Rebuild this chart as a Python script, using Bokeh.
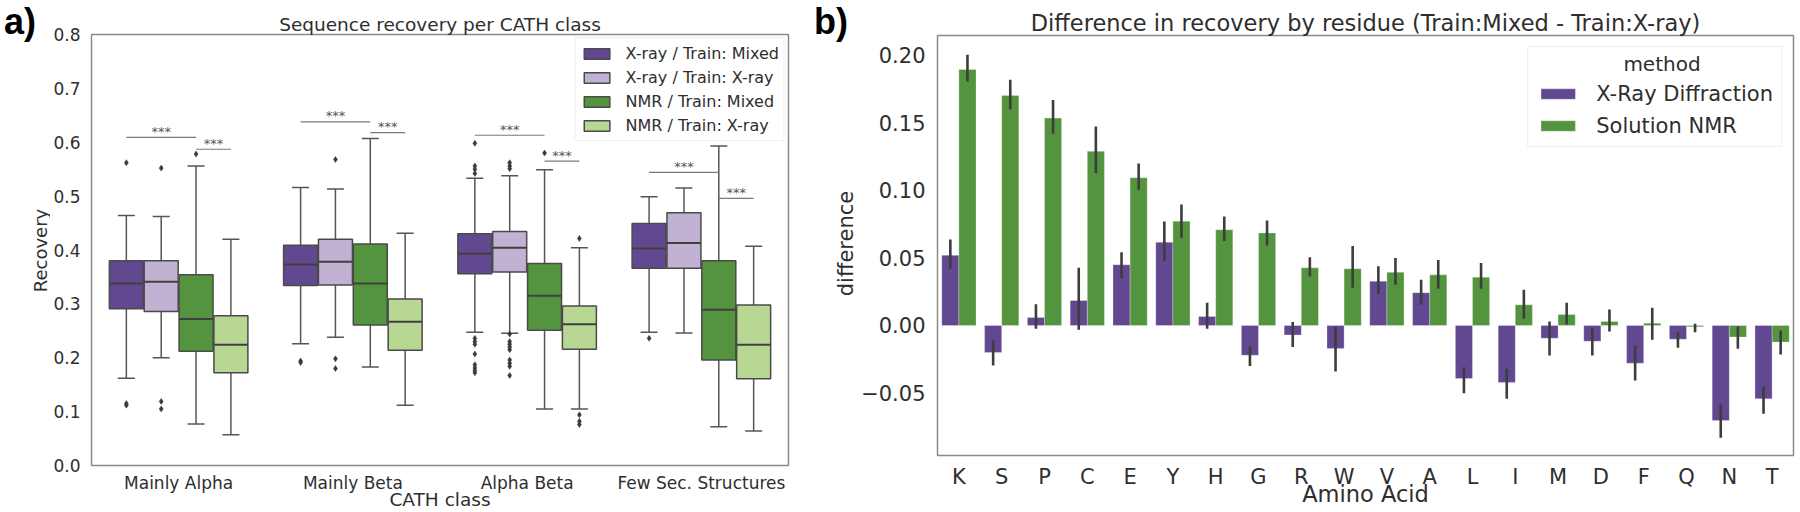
import math
from bokeh.plotting import figure
from bokeh.models import ColumnDataSource, FactorRange, Range1d, FixedTicker, Label
from bokeh.transform import dodge
from bokeh.layouts import row, column
from bokeh.embed import file_html
from bokeh.resources import INLINE
from bokeh.core.properties import value

# ---------------- data: panel a ----------------
classes = ["Mainly Alpha", "Mainly Beta", "Alpha Beta", "Few Sec. Structures"]
groups = ["X-ray / Train: Mixed", "X-ray / Train: X-ray", "NMR / Train: Mixed", "NMR / Train: X-ray"]

# rows = groups, columns = classes
box_lo = [
    [0.162, 0.226, 0.2475, 0.2475],
    [0.200, 0.238, 0.2457, 0.246],
    [0.077, 0.183, 0.105, 0.072],
    [0.057, 0.112, 0.105, 0.064],
]
box_q1 = [
    [0.291, 0.334, 0.356, 0.366],
    [0.286, 0.335, 0.359, 0.366],
    [0.212, 0.261, 0.251, 0.196],
    [0.172, 0.214, 0.216, 0.161],
]
box_med = [
    [0.338, 0.373, 0.393, 0.403],
    [0.341, 0.378, 0.404, 0.413],
    [0.272, 0.338, 0.315, 0.289],
    [0.224, 0.267, 0.262, 0.224],
]
box_q3 = [
    [0.380, 0.409, 0.430, 0.449],
    [0.380, 0.420, 0.4345, 0.469],
    [0.354, 0.411, 0.375, 0.380],
    [0.278, 0.309, 0.296, 0.298],
]
box_hi = [
    [0.464, 0.516, 0.533, 0.499],
    [0.462, 0.513, 0.538, 0.515],
    [0.556, 0.607, 0.549, 0.593],
    [0.420, 0.431, 0.404, 0.407],
]

outlier_class = (["Mainly Alpha"] * 3 + ["Mainly Alpha"] * 3 + ["Mainly Alpha"]
                 + ["Mainly Beta"] * 2 + ["Mainly Beta"] * 3
                 + ["Alpha Beta"] * 12 + ["Alpha Beta"] * 12 + ["Alpha Beta"] + ["Alpha Beta"] * 4
                 + ["Few Sec. Structures"])
outlier_group = ([0] * 3 + [1] * 3 + [2]
                 + [0] * 2 + [1] * 3
                 + [0] * 12 + [1] * 12 + [2] + [3] * 4
                 + [0])
outlier_value = ([0.562, 0.115, 0.112] + [0.552, 0.119, 0.105] + [0.578]
                 + [0.194, 0.191] + [0.568, 0.198, 0.180]
                 + [0.598, 0.556, 0.550, 0.542, 0.236, 0.230, 0.225, 0.207, 0.187, 0.181, 0.176, 0.172]
                 + [0.562, 0.556, 0.551, 0.244, 0.230, 0.225, 0.220, 0.215, 0.196, 0.190, 0.184, 0.167]
                 + [0.580]
                 + [0.4215, 0.094, 0.082, 0.076]
                 + [0.236])

# significance bars: (X-ray/Mixed vs NMR/Mixed) and (NMR/Mixed vs NMR/X-ray)
sig_y_a = [0.609, 0.638, 0.613, 0.544]
sig_y_b = [0.587, 0.618, 0.565, 0.496]
sig_text = ["***", "***", "***", "***"]

left_ticks = [0.0, 0.1, 0.2, 0.3, 0.4, 0.5, 0.6, 0.7, 0.8]
left_tick_labels = ["0.0", "0.1", "0.2", "0.3", "0.4", "0.5", "0.6", "0.7", "0.8"]

# ---------------- data: panel b ----------------
amino = ["K", "S", "P", "C", "E", "Y", "H", "G", "R", "W",
         "V", "A", "L", "I", "M", "D", "F", "Q", "N", "T"]
xray_diff = [0.052, -0.020, 0.006, 0.0185, 0.045, 0.0617, 0.0067, -0.022, -0.007, -0.017,
             0.0328, 0.0243, -0.0393, -0.0422, -0.0094, -0.0116, -0.0279, -0.0101, -0.0704, -0.0543]
xray_lo = [0.042, -0.0296, -0.0025, -0.0032, 0.035, 0.048, -0.0025, -0.030, -0.016, -0.034,
           0.0233, 0.0153, -0.0501, -0.0543, -0.0222, -0.0222, -0.0407, -0.0165, -0.0832, -0.0654]
xray_hi = [0.0637, -0.0111, 0.0157, 0.0427, 0.0543, 0.077, 0.0168, -0.0156, 0.0025, -0.0012,
           0.0438, 0.0338, -0.0309, -0.0321, 0.003, -0.0017, -0.0148, -0.0044, -0.0585, -0.0452]
nmr_diff = [0.1896, 0.1704, 0.1536, 0.129, 0.1094, 0.0773, 0.0709, 0.0686, 0.0427, 0.042,
            0.0394, 0.0375, 0.0358, 0.0153, 0.0081, 0.003, 0.0017, -0.001, -0.0086, -0.0123]
nmr_lo = [0.1807, 0.160, 0.142, 0.113, 0.1005, 0.065, 0.0625, 0.0593, 0.0363, 0.0279,
          0.0301, 0.0272, 0.0272, 0.005, 0.0007, -0.0044, -0.0106, -0.005, -0.0173, -0.0215]
nmr_hi = [0.2005, 0.182, 0.167, 0.1474, 0.120, 0.0896, 0.0807, 0.0778, 0.0506, 0.0588,
          0.050, 0.0486, 0.0462, 0.0264, 0.0168, 0.0119, 0.0131, 0.0012, -0.0007, -0.0037]
methods = ["X-Ray Diffraction", "Solution NMR"]

right_ticks = [-0.05, 0.0, 0.05, 0.1, 0.15, 0.2]
right_tick_labels = ["\u22120.05", "0.00", "0.05", "0.10", "0.15", "0.20"]

# ---------------- style ----------------
FONT = "DejaVu Sans"
TXT = "#2e2e2e"
group_colors = ["#614890", "#c1b1d3", "#55943e", "#b8d793"]
group_offsets = [-0.3, -0.1, 0.1, 0.3]
BOXW = 0.195
LINE = "#555555"
H = 512


def style_axes(p, tick_size, x_standoff, y_standoff):
    for ax in (p.xaxis, p.yaxis):
        ax.axis_line_color = None
        ax.major_tick_line_color = None
        ax.minor_tick_line_color = None
        ax.major_label_text_font = FONT
        ax.major_label_text_font_size = tick_size
        ax.major_label_text_color = TXT
        ax.axis_label_text_font = FONT
        ax.axis_label_text_font_style = "normal"
        ax.axis_label_text_color = TXT
    p.xaxis.major_label_standoff = x_standoff
    p.yaxis.major_label_standoff = y_standoff
    p.xgrid.grid_line_color = None
    p.ygrid.grid_line_color = None
    p.outline_line_color = "#8a8a8a"
    p.outline_line_width = 1.5
    p.background_fill_color = "white"
    p.border_fill_color = "white"


def style_title(p, text, size, standoff):
    p.title.text = text
    p.title.align = "center"
    p.title.text_font = FONT
    p.title.text_font_size = size
    p.title.text_font_style = "normal"
    p.title.text_color = TXT
    p.title.standoff = standoff


def text_strip(w, h):
    f = figure(width=w, height=h, x_range=Range1d(0, w), y_range=Range1d(0, h),
               output_backend="svg", toolbar_location=None, min_border=0,
               x_axis_location=None, y_axis_location=None)
    f.outline_line_color = None
    f.background_fill_color = "white"
    f.border_fill_color = "white"
    f.xgrid.visible = False
    f.ygrid.visible = False
    return f


def add_text(f, text, x, y, size, align="center", angle=0.0,
             font=FONT, style="normal", color=TXT):
    # y is the vertical centre of the text box
    f.add_layout(Label(x=x, y=y, text=text, text_font=font, text_font_size=size,
                       text_font_style=style, text_align=align, text_baseline="middle",
                       angle=angle, text_color=color, level="overlay"))


# ================= panel a =================   (page x 50..790)
p1 = figure(width=740, height=H, x_range=FactorRange(factors=classes, range_padding=0),
            y_range=Range1d(0, 0.8), output_backend="svg", toolbar_location=None,
            min_border_left=33, min_border_right=2, min_border_top=34, min_border_bottom=46)
style_axes(p1, "17px", 1, 5)
style_title(p1, "Sequence recovery per CATH class", "18.5px", 0)
p1.xaxis.axis_label = "CATH class"
p1.xaxis.axis_label_text_font_size = "18.5px"
p1.xaxis.axis_label_standoff = -7
p1.yaxis.ticker = FixedTicker(ticks=left_ticks)
p1.yaxis.major_label_overrides = dict(zip(left_ticks, left_tick_labels))

for gi, g in enumerate(groups):
    off = group_offsets[gi]
    src = ColumnDataSource(dict(cls=classes, lo=box_lo[gi], q1=box_q1[gi], med=box_med[gi],
                                q3=box_q3[gi], hi=box_hi[gi]))
    xc = dodge("cls", off, range=p1.x_range)
    p1.segment(x0=xc, y0="q3", x1=xc, y1="hi", source=src, line_color=LINE, line_width=1.5)
    p1.segment(x0=xc, y0="q1", x1=xc, y1="lo", source=src, line_color=LINE, line_width=1.5)
    p1.segment(x0=dodge("cls", off - BOXW / 4, range=p1.x_range), y0="hi",
               x1=dodge("cls", off + BOXW / 4, range=p1.x_range), y1="hi",
               source=src, line_color=LINE, line_width=1.5)
    p1.segment(x0=dodge("cls", off - BOXW / 4, range=p1.x_range), y0="lo",
               x1=dodge("cls", off + BOXW / 4, range=p1.x_range), y1="lo",
               source=src, line_color=LINE, line_width=1.5)
    p1.vbar(x=xc, width=BOXW, bottom="q1", top="q3", source=src,
            fill_color=group_colors[gi], line_color="#4a4a4a", line_width=1.5,
            legend_label=g)
    p1.segment(x0=dodge("cls", off - BOXW / 2, range=p1.x_range), y0="med",
               x1=dodge("cls", off + BOXW / 2, range=p1.x_range), y1="med",
               source=src, line_color="#404040", line_width=2)
    oc = [c for c, gg in zip(outlier_class, outlier_group) if gg == gi]
    ov = [v for v, gg in zip(outlier_value, outlier_group) if gg == gi]
    if oc:
        osrc = ColumnDataSource(dict(cls=oc, v=ov))
        p1.scatter(x=xc, y="v", source=osrc, marker="diamond", size=6,
                   fill_color="#3a3a3a", line_color="#3a3a3a", line_width=0.5)

sig_src = ColumnDataSource(dict(cls=classes, ya=sig_y_a, yb=sig_y_b, t=sig_text))
p1.segment(x0=dodge("cls", group_offsets[0], range=p1.x_range), y0="ya",
           x1=dodge("cls", group_offsets[2], range=p1.x_range), y1="ya",
           source=sig_src, line_color="#7a7a7a", line_width=1.2)
p1.segment(x0=dodge("cls", group_offsets[2], range=p1.x_range), y0="yb",
           x1=dodge("cls", group_offsets[3], range=p1.x_range), y1="yb",
           source=sig_src, line_color="#7a7a7a", line_width=1.2)
p1.text(x=dodge("cls", (group_offsets[0] + group_offsets[2]) / 2, range=p1.x_range), y="ya",
        text="t", source=sig_src, text_font=value(FONT), text_font_size=value("13px"),
        text_align="center", text_baseline="alphabetic", y_offset=-6, text_color="#555555")
p1.text(x=dodge("cls", (group_offsets[2] + group_offsets[3]) / 2, range=p1.x_range), y="yb",
        text="t", source=sig_src, text_font=value(FONT), text_font_size=value("13px"),
        text_align="center", text_baseline="alphabetic", y_offset=-6, text_color="#555555")

leg1 = p1.legend[0]
leg1.location = "top_right"
leg1.margin = 3
leg1.padding = 5
leg1.spacing = 4
leg1.glyph_width = 32
leg1.glyph_height = 13
leg1.label_height = 20
leg1.label_standoff = 13
leg1.label_text_font = FONT
leg1.label_text_font_size = "16px"
leg1.label_text_color = TXT
leg1.border_line_color = "#dddddd"
leg1.border_line_width = 1
leg1.background_fill_alpha = 0.85

# ================= panel b =================   (page x 858..1800)
p2 = figure(width=942, height=H, x_range=FactorRange(factors=amino, range_padding=0),
            y_range=Range1d(-0.0963, 0.2148), output_backend="svg", toolbar_location=None,
            min_border_left=71, min_border_right=7, min_border_top=35, min_border_bottom=57)
style_axes(p2, "21px", 3, 6)
style_title(p2, "Difference in recovery by residue (Train:Mixed - Train:X-ray)", "22.5px", 0)
p2.xaxis.axis_label = "Amino Acid"
p2.xaxis.axis_label_text_font_size = "22.5px"
p2.xaxis.axis_label_standoff = -11
p2.yaxis.ticker = FixedTicker(ticks=right_ticks)
p2.yaxis.major_label_overrides = dict(zip(right_ticks, right_tick_labels))

bsrc = ColumnDataSource(dict(aa=amino, xray=xray_diff, xlo=xray_lo, xhi=xray_hi,
                             nmr=nmr_diff, nlo=nmr_lo, nhi=nmr_hi))
xp = dodge("aa", -0.2, range=p2.x_range)
xg = dodge("aa", 0.2, range=p2.x_range)
p2.vbar(x=xp, width=0.4, bottom=0, top="xray", source=bsrc, fill_color=group_colors[0],
        line_color="#ffffff", line_width=0.8, line_alpha=0.35, legend_label=methods[0])
p2.vbar(x=xg, width=0.4, bottom=0, top="nmr", source=bsrc, fill_color=group_colors[2],
        line_color="#ffffff", line_width=0.8, line_alpha=0.35, legend_label=methods[1])
p2.segment(x0=xp, y0="xlo", x1=xp, y1="xhi", source=bsrc, line_color="#3d3d3d", line_width=2.6)
p2.segment(x0=xg, y0="nlo", x1=xg, y1="nhi", source=bsrc, line_color="#3d3d3d", line_width=2.6)

leg2 = p2.legend[0]
leg2.location = "top_right"
leg2.margin = 11
leg2.padding = 8
leg2.spacing = 7
leg2.glyph_width = 43
leg2.glyph_height = 13
leg2.label_height = 25
leg2.label_standoff = 17
leg2.label_text_font = FONT
leg2.label_text_font_size = "21px"
leg2.label_text_color = TXT
leg2.title = " "
leg2.title_text_font_size = "20px"
leg2.title_standoff = 3
leg2.border_line_color = "#dddddd"
leg2.border_line_width = 1
leg2.background_fill_alpha = 0.0
p2.add_layout(Label(x=724.5, y=392, x_units="screen", y_units="screen", text="method",
                    text_font=FONT, text_font_size="20px", text_align="center",
                    text_baseline="middle", text_color=TXT, level="overlay"))

# ================= text strips beside the plot frames =================
strip_a = text_strip(50, H)          # page x 0..50
add_text(strip_a, "a)", 3.6, H - 20.5, "36px", align="left", font="Liberation Sans",
         style="bold", color="#000000")
add_text(strip_a, "Recovery", 39.5, H - 250, "18px", angle=math.pi / 2)

strip_b = text_strip(68, H)          # page x 790..858
add_text(strip_b, "b)", 23.6, H - 20.5, "36px", align="left", font="Liberation Sans",
         style="bold", color="#000000")
add_text(strip_b, "difference", 55.7, H - 243, "21px", angle=math.pi / 2)

# each plot in its own column so that Bokeh does not align their frames
layout = row(column(strip_a), column(p1), column(strip_b), column(p2))
open("out.html", "w").write(file_html(layout, INLINE))
